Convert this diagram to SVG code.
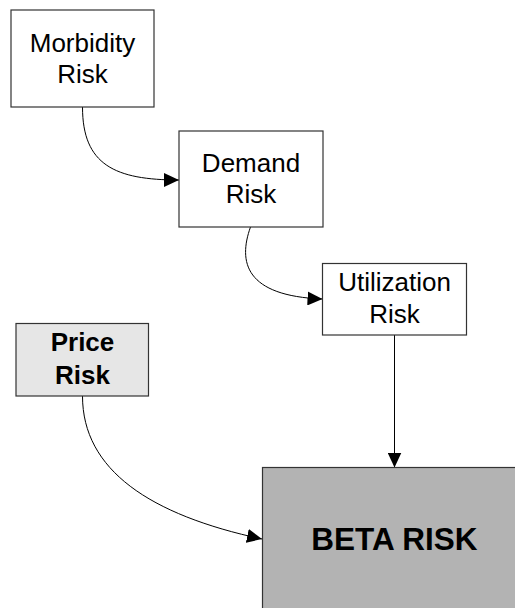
<svg xmlns="http://www.w3.org/2000/svg" width="515" height="608" viewBox="0 0 515 608">
<defs>
<marker id="arr" markerUnits="userSpaceOnUse" markerWidth="16" markerHeight="14" refX="15" refY="7" orient="auto">
<path d="M0,0 L15,7 L0,14 Z" fill="#000"/>
</marker>
<style>
.box{stroke:#333;stroke-width:1.2}
.t{font-family:"Liberation Sans",Arial,sans-serif;font-size:26px;fill:#000;text-anchor:middle}
.b{font-weight:bold}
.c{fill:none;stroke:#000;stroke-width:1}
</style>
</defs>
<rect width="515" height="608" fill="#fff"/>
<g id="connectors">
<path class="c" d="M82.5,107 C82.5,165 115,180 179,180" marker-end="url(#arr)"/>
<path class="c" d="M250.5,227 C238,262 245,296 322.5,299" marker-end="url(#arr)"/>
<path class="c" d="M394.5,335 L394.5,467.5" stroke="#444" marker-end="url(#arr)"/>
<path class="c" d="M82.5,396 C82.5,470 150,515 262,539" marker-end="url(#arr)"/>
</g>
<g id="morbidity">
<rect class="box" x="11" y="10" width="143" height="97" fill="#fff"/>
<text class="t" x="82.5" y="52">Morbidity</text>
<text class="t" x="82.5" y="83">Risk</text>
</g>
<g id="demand">
<rect class="box" x="179" y="131" width="144" height="96" fill="#fff"/>
<text class="t" x="251" y="172">Demand</text>
<text class="t" x="251" y="203">Risk</text>
</g>
<g id="utilization">
<rect class="box" x="322.5" y="263.5" width="144" height="71.5" fill="#fff"/>
<text class="t" x="394.5" y="291">Utilization</text>
<text class="t" x="394.5" y="323">Risk</text>
</g>
<g id="price">
<rect class="box" x="16" y="323.5" width="132.5" height="72.5" fill="#e6e6e6"/>
<text class="t b" x="82.5" y="351">Price</text>
<text class="t b" x="82.5" y="383.5">Risk</text>
</g>
<g id="beta">
<rect class="box" x="262.5" y="467.5" width="270" height="150" fill="#b3b3b3"/>
<text class="t b" x="394.5" y="549.5" style="font-size:31.5px">BETA RISK</text>
</g>
</svg>
